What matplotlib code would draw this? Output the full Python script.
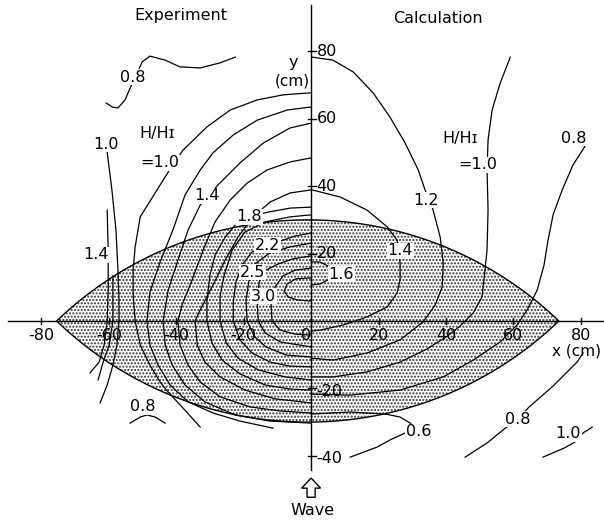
import numpy as np
import matplotlib
matplotlib.use("Agg")
import matplotlib.pyplot as plt
from matplotlib.patches import Polygon, FancyArrow

plt.rcParams['font.family'] = ['DejaVu Sans']
plt.rcParams['hatch.linewidth'] = 1.0

# ---- shoal (lens) geometry, cm ----
lens_tips = [-75.5, 73.5]      # ends of the lens on the x axis
lens_half = 30.0               # half thickness at the crest

# ---- axes ticks ----
x_ticks = [-80, -60, -40, -20, 0, 20, 40, 60, 80]
x_tick_labels = ['-80', '-60', '-40', '-20', '0', '20', '40', '60', '80']
y_ticks = [80, 60, 40, 20, -20, -40]
y_tick_labels = ['80', '60', '40', '20', '-20', '-40']

# ---- experiment (x < 0): wave height ratio contours ----
exp08_top_x = [-60.8, -59.0, -57.3, -55.2, -53.7, -50.1, -47.8, -43.3, -38.9, -32.9, -27.0, -22.5]
exp08_top_y = [64.7, 63.5, 63.2, 65.6, 69.1, 76.9, 78.6, 77.4, 75.4, 75.1, 76.6, 78.3]

exp08_bot_x = [-53.7, -50.7, -48.7, -46.3, -43.3]
exp08_bot_y = [-30.3, -28.5, -27.9, -28.5, -30.3]

exp10_far_x = [-60.5, -59.1, -57.9, -57.3, -57.0, -57.0, -57.6, -58.8, -60.5, -62.6]
exp10_far_y = [50.1, 38.9, 27.0, 15.1, 6.2, 0.0, -7.1, -13.1, -19.0, -24.3]

exp14_far_x = [-60.5, -60.2, -60.2, -60.5, -61.4, -62.9, -65.6]
exp14_far_y = [32.9, 21.1, 9.2, 0.0, -7.1, -12.2, -15.4]

exp12_far_x = [-58.8, -58.8, -59.9, -61.7, -63.2]
exp12_far_y = [13.4, 0.0, -7.1, -12.2, -17.5]

exp_a_x = [-0.3, -8.3, -16.0, -24.0, -30.9, -38.0, -42.4, -50.7, -52.2, -52.8, -52.8, -52.2,
           -50.7, -47.8, -44.8, -42.4, -38.3, -32.9]
exp_a_y = [67.7, 67.1, 65.6, 62.6, 57.6, 50.7, 44.2, 30.9, 22.0, 15.1, 7.7, 0.0,
           -7.1, -13.1, -18.1, -21.1, -25.5, -31.5]

exp_b_x = [0.0, -7.1, -16.0, -23.1, -29.1, -32.9, -37.4, -41.0, -44.8, -47.8, -48.7, -47.8,
           -45.4, -41.8, -36.5, -29.1, -21.1, -11.3]
exp_b_y = [63.5, 62.6, 59.6, 55.2, 49.9, 44.8, 37.4, 27.0, 17.5, 8.6, 0.0, -7.1,
           -13.1, -19.0, -24.0, -27.3, -29.7, -31.8]

exp_c_x = [0.0, -6.2, -14.2, -21.1, -27.6, -32.9, -36.5, -39.5, -42.4, -43.9, -43.3, -41.2,
           -37.4, -31.5, -22.5, -12.2, 0.0]
exp_c_y = [58.7, 57.3, 52.8, 46.9, 40.4, 34.4, 27.0, 18.1, 9.2, 0.0, -7.1, -13.1,
           -19.0, -24.0, -27.9, -29.7, -30.3]

exp_d_x = [0.0, -6.2, -13.1, -19.0, -24.0, -28.5, -32.0, -35.3, -38.3, -39.5, -38.9, -36.5,
           -32.9, -27.0, -18.1, -9.2, 0.0]
exp_d_y = [48.4, 47.2, 44.8, 40.9, 35.9, 29.4, 21.1, 12.2, 4.7, 0.0, -7.1, -13.1,
           -18.1, -22.5, -25.5, -26.7, -27.3]

exp_e_x = [0.0, -6.2, -12.2, -17.2, -21.7, -25.5, -29.1, -32.9, -34.4, -33.8, -31.5, -27.0,
           -19.6, -10.7, 0.0]
exp_e_y = [38.9, 38.0, 35.3, 30.9, 24.9, 18.1, 10.7, 3.3, 0.0, -7.1, -12.2, -16.6,
           -20.5, -23.1, -24.3]

exp_f_x = [0.0, -6.2, -12.8, -18.4, -22.5, -25.5, -28.5, -30.0, -30.9, -30.9, -29.4, -26.4,
           -21.1, -13.6, -6.2, 0.0]
exp_f_y = [33.8, 33.5, 32.3, 30.9, 28.5, 24.9, 19.6, 13.6, 6.2, 0.0, -6.5, -11.6,
           -15.7, -19.0, -20.2, -20.5]

exp_g_x = [0.0, -6.2, -13.6, -19.6, -23.4, -25.8, -27.0, -27.0, -25.2, -21.7, -15.7, -7.7, 0.0]
exp_g_y = [31.5, 30.9, 29.4, 26.4, 21.1, 13.6, 7.4, 0.0, -6.5, -11.0, -14.5, -16.6, -17.5]

exp_h_x = [0.0, -4.7, -8.3, -12.8, -17.5, -20.5, -22.3, -23.1, -23.1, -21.1, -17.5, -12.2, -6.2, 0.0]
exp_h_y = [26.1, 25.2, 24.0, 22.5, 20.5, 16.6, 11.6, 5.6, 0.0, -5.6, -9.5, -12.2, -13.4, -13.6]

exp_i_x = [0.0, -6.2, -12.2, -16.3, -18.4, -19.3, -19.0, -16.9, -13.4, -7.4, 0.0]
exp_i_y = [23.1, 22.0, 20.2, 17.2, 12.2, 6.2, 0.0, -4.5, -7.7, -10.1, -10.7]

exp_j_x = [0.0, -5.6, -9.8, -13.4, -15.4, -16.0, -15.7, -13.6, -9.2, 0.0]
exp_j_y = [19.3, 18.4, 16.9, 15.1, 11.6, 6.2, 0.0, -3.6, -6.2, -7.7]

exp_k_x = [0.0, -4.7, -8.3, -10.7, -11.9, -11.6, -9.2, -4.7, 0.0]
exp_k_y = [15.7, 15.1, 13.4, 10.1, 5.6, 0.0, -2.7, -3.9, -4.2]

exp30_x = [0.0, -4.5, -7.1, -8.0, -6.8, -3.9, 0.0]
exp30_y = [12.8, 12.5, 11.0, 8.9, 7.1, 6.2, 5.9]

# ---- calculation (x > 0) ----
cal12_x = [0.3, 6.5, 12.5, 18.4, 23.4, 27.9, 31.8, 33.8, 36.2, 38.3, 39.2, 38.9, 36.8, 33.2,
           26.4, 16.6, 6.5, 0.0]
cal12_y = [78.3, 77.4, 73.9, 67.7, 60.5, 52.8, 44.8, 38.9, 32.9, 24.9, 17.2, 10.1, 4.7, -0.3,
           -5.6, -9.5, -11.6, -11.0]

cal14_x = [0.3, 8.6, 16.6, 22.6, 25.5, 26.4, 26.4, 25.5, 22.6, 16.6, 9.5, 2.7, 0.0]
cal14_y = [38.9, 36.8, 32.9, 27.9, 24.0, 17.2, 12.2, 8.3, 4.2, 1.2, -1.2, -2.7, -3.0]

cal16_x = [0.0, 2.7, 5.0, 5.9, 5.0, 2.7, 0.0]
cal16_y = [17.5, 17.5, 16.3, 14.2, 12.2, 11.0, 10.7]

cal10_x = [59.1, 56.1, 53.7, 52.5, 52.2, 52.5, 52.2, 51.6, 50.7, 48.1, 44.2, 40.4, 34.4,
           26.4, 16.6, 6.5, 0.0]
cal10_y = [78.3, 70.6, 62.6, 53.7, 44.8, 32.9, 21.1, 15.1, 7.1, 2.4, -1.5, -4.5, -8.3,
           -12.2, -15.1, -16.6, -16.6]

cal08_x = [81.3, 77.7, 74.5, 71.8, 70.3, 69.1, 67.1, 64.1, 61.1, 56.1, 48.1, 39.2, 26.4, 11.6, 0.0]
cal08_y = [51.9, 46.3, 38.9, 31.5, 24.0, 16.6, 9.2, 3.3, -1.2, -6.2, -11.6, -16.6, -20.5, -22.0, -21.7]

cal06_x = [0.0, 11.6, 22.0, 26.4, 29.4, 30.5, 27.3, 23.4, 19.6, 11.6]
cal06_y = [-27.6, -27.0, -27.6, -28.5, -30.3, -32.0, -33.5, -35.3, -37.4, -40.4]

cal08_bot_x = [45.7, 52.2, 57.6, 61.2, 64.7, 71.8, 78.9, 80.7]
cal08_bot_y = [-40.4, -36.2, -31.8, -29.1, -25.5, -19.3, -12.2, -9.5]

cal10_bot_x = [68.8, 75.1, 78.3, 80.7, 83.4]
cal10_bot_y = [-40.4, -37.7, -35.9, -33.2, -31.5]

contour_lines = [
    (exp08_top_x, exp08_top_y), (exp08_bot_x, exp08_bot_y),
    (exp10_far_x, exp10_far_y), (exp14_far_x, exp14_far_y), (exp12_far_x, exp12_far_y),
    (exp_a_x, exp_a_y), (exp_b_x, exp_b_y), (exp_c_x, exp_c_y), (exp_d_x, exp_d_y),
    (exp_e_x, exp_e_y), (exp_f_x, exp_f_y), (exp_g_x, exp_g_y), (exp_h_x, exp_h_y),
    (exp_i_x, exp_i_y), (exp_j_x, exp_j_y), (exp_k_x, exp_k_y), (exp30_x, exp30_y),
    (cal12_x, cal12_y), (cal14_x, cal14_y), (cal16_x, cal16_y), (cal10_x, cal10_y),
    (cal08_x, cal08_y), (cal06_x, cal06_y), (cal08_bot_x, cal08_bot_y),
    (cal10_bot_x, cal10_bot_y),
]

# contour value labels
label_text = ['0.8', '1.0', 'H/Hɪ', '=1.0', '1.4', '1.8', '2.2', '2.5', '3.0', '1.4', '0.8',
              'H/Hɪ', '=1.0', '1.2', '1.4', '1.6', '0.8', '0.6', '0.8', '1.0']
label_x = [-52.8, -60.8, -45.7, -44.8, -30.9, -18.4, -12.8, -17.5, -14.2, -63.8, -49.9,
           44.2, 49.5, 34.1, 26.4, 8.9, 78.0, 31.8, 61.2, 76.3]
label_y = [72.4, 52.5, 55.5, 46.9, 37.1, 30.9, 22.5, 14.5, 7.4, 19.6, -25.5,
           54.3, 46.3, 35.9, 20.8, 13.9, 54.3, -32.9, -29.1, -33.5]

# ---- figure ----
fig = plt.figure(figsize=(6.04, 5.21), dpi=100)
ax = fig.add_axes([0, 0, 1, 1])
ax.set_xlim(-92.3, 86.9)
ax.set_ylim(-59.35, 95.25)
ax.axis('off')

# lens outline from two circular arcs
a, b = lens_tips
xc = 0.5 * (a + b)
c = 0.5 * (b - a)
R = (c ** 2 + lens_half ** 2) / (2 * lens_half)
xs = np.linspace(a, b, 200)
yu = np.sqrt(np.clip(R ** 2 - (xs - xc) ** 2, 0, None)) - (R - lens_half)
lens_pts = np.column_stack([np.r_[xs, xs[::-1]], np.r_[yu, -yu[::-1]]])
# stippled shoal area (hatch colour follows the edge colour)
ax.add_patch(Polygon(lens_pts, closed=True, facecolor='white', edgecolor='#303030',
                     lw=0, hatch='.....', zorder=1))
ax.add_patch(Polygon(lens_pts, closed=True, facecolor='none', edgecolor='black',
                     lw=1.0, zorder=4))

# coordinate axes
ax.plot([-90, 87.5], [0, 0], color='black', lw=1.0, zorder=4)
ax.plot([0, 0], [-44.2, 93.8], color='black', lw=1.0, zorder=4)
for t, s in zip(x_ticks, x_tick_labels):
    ax.plot([t, t], [-1.0, 1.0], color='black', lw=1.0, zorder=4)
    ax.text(t - (1.5 if t == 0 else 0), -4.4, s, ha='center', va='center', fontsize=11.5, zorder=6)
for t, s in zip(y_ticks, y_tick_labels):
    ax.plot([-1.0, 1.4], [t, t], color='black', lw=1.0, zorder=4)
    ax.text(1.6, t - (0.8 if t < 0 else 0), s, ha='left', va='center', fontsize=11.5, zorder=6)

ax.text(78.6, -8.8, 'x (cm)', ha='center', va='center', fontsize=11, zorder=6)
ax.text(-5.4, 76.6, 'y', ha='center', va='center', fontsize=11.5, zorder=6)
ax.text(-5.6, 71.3, '(cm)', ha='center', va='center', fontsize=11, zorder=6)
ax.text(-38.6, 90.6, 'Experiment', ha='center', va='center', fontsize=11.5, zorder=6)
ax.text(37.7, 89.8, 'Calculation', ha='center', va='center', fontsize=11.5, zorder=6)
ax.text(0.3, -56.2, 'Wave', ha='center', va='center', fontsize=11.5, zorder=6)
ax.add_patch(FancyArrow(0, -52.3, 0, 5.7, width=2.4, head_width=5.6, head_length=3.0,
                        length_includes_head=True, facecolor='white', edgecolor='black',
                        lw=1.0, zorder=6))

for lx, ly in contour_lines:
    ax.plot(lx, ly, color='black', lw=0.9, zorder=3, solid_joinstyle='round')

for s, x, y in zip(label_text, label_x, label_y):
    ax.text(x, y, s, ha='center', va='center', fontsize=11.5, zorder=5,
            bbox=dict(boxstyle='square,pad=0.05', facecolor='white', edgecolor='none'))

fig.savefig('out.png', dpi=100)
